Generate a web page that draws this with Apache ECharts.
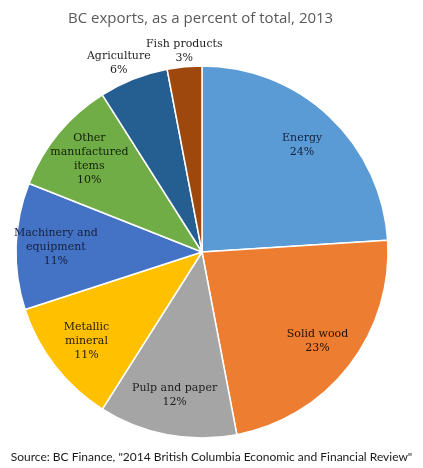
<!DOCTYPE html>
<html><head><meta charset="utf-8">
<script src="https://cdn.jsdelivr.net/npm/echarts@6/dist/echarts.min.js"></script>
<style>html,body{margin:0;padding:0;background:#fff}#c{width:423px;height:468px}</style>
</head><body><div id="c"></div>
<script>
var categories = ["Energy","Solid wood","Pulp and paper","Metallic mineral","Machinery and equipment","Other manufactured items","Agriculture","Fish products"];
var labelText = ["Energy","Solid wood","Pulp and paper","Metallic\nmineral","Machinery and\nequipment","Other\nmanufactured\nitems","Agriculture","Fish products"];
var values = [24,23,12,11,11,10,6,3];
var colors = ["#5B9BD5","#ED7D31","#A5A5A5","#FFC000","#4472C4","#70AD47","#255E91","#9E480E"];
var labelColors = ["#15213d","#221205","#1e1e1e","#221a00","#15213d","#122008","#1e1e1e","#1e1e1e"];
var outsideLabels = ["Agriculture","Fish products"];

var chart = echarts.init(document.getElementById('c'));
var R = 186;
var center = [202, 252];
function mk(i, show){
  return {name: categories[i], value: values[i], label: {show: show, color: labelColors[i]}};
}
var mainData = categories.map(function(c,i){return {name:c,value:values[i],itemStyle:{color:colors[i]}};});
var innerData = categories.map(function(c,i){return mk(i, outsideLabels.indexOf(c) < 0);});
var outerData = categories.map(function(c,i){return mk(i, outsideLabels.indexOf(c) >= 0);});
var lblFmt = function(p){ return labelText[p.dataIndex] + '\n' + values[p.dataIndex] + '%'; };
var font = {fontFamily:'"DejaVu Serif", serif', fontSize:11, lineHeight:14};
chart.setOption({
  animation:false,
  title:{text:'BC exports, as a percent of total, 2013', left:63, top:6,
    textStyle:{fontFamily:'"Open Sans", sans-serif', fontSize:15, fontWeight:'normal', color:'#595959'}},
  graphic:[{type:'text', left:'center', top:451, style:{text:'Source: BC Finance, "2014 British Columbia Economic and Financial Review"', font:'12px Lato, sans-serif', fill:'#1a1a1a'}}],
  series:[
    {type:'pie', center:center, radius:[0,R], startAngle:90, clockwise:true, silent:true,
      itemStyle:{borderColor:'#fff', borderWidth:1.5}, label:{show:false}, labelLine:{show:false}, data:mainData},
    {type:'pie', center:center, radius:[R*0.54,R], startAngle:90, silent:true, avoidLabelOverlap:false,
      itemStyle:{color:'rgba(0,0,0,0)'}, label:Object.assign({position:'inside', formatter:lblFmt}, font),
      labelLine:{show:false}, data:innerData},
    {type:'pie', center:center, radius:[0,R+2], startAngle:90, silent:true, avoidLabelOverlap:false,
      itemStyle:{color:'rgba(0,0,0,0)'},
      label:Object.assign({position:'outside', formatter:lblFmt, alignTo:'none', distanceToLabelLine:0}, font),
      labelLine:{show:false, length:0, length2:0},
      labelLayout:function(p){ return {align:'center', verticalAlign:'bottom', dx: p.dataIndex === 6 ? -14 : 0}; },
      data:outerData}
  ]
});
</script></body></html>
